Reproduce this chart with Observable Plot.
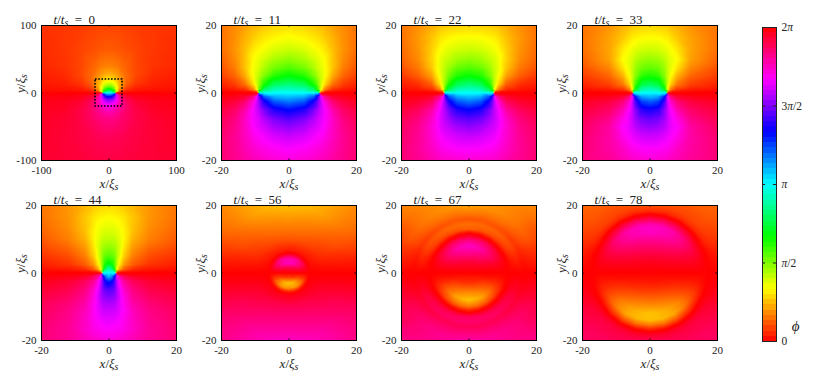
<!DOCTYPE html>
<html><head><meta charset="utf-8">
<style>
html,body{margin:0;padding:0;background:#fff}
#chart{position:relative;width:830px;height:382px;overflow:hidden}
#chart svg{position:absolute;overflow:visible;background:transparent}
</style>
<script src="https://cdn.jsdelivr.net/npm/d3@7"></script>
<script src="https://cdn.jsdelivr.net/npm/@observablehq/plot@0.6"></script>
</head><body><div id="chart"></div>
<script>
// Phase phi in degrees (0..360 = 0..2pi), upper half plane, read from hue; x>=0 side.
const rowsV = [0,1,2.5,5,7.5,10,13,16.5,20];

const xs0 = [0,5,9.7,10.3,15,25,40,65,100];
const ys0 = [0,2,5,10,17,27,40,65,100];
const phi0 = [
[180,180,180,0,0,0,0,0,0],
[157,151,93,76,18,5,3,2,2],
[127,117,79,73,35,12,6,4,3],
[90,83,65,62,43,20,10,6,5],
[62,59,52,51,40,25,14,8,6],
[42,41,38,37,33,25,17,10,7],
[30,30,29,29,27,23,17,12,9],
[21,21,20,20,20,18,16,13,10],
[16,16,16,16,16,15,14,13,12]];

const xs11 = [0,4.5,7.5,8.7,9.3,10.5,13,16,20];
const phi11 = [
[180,180,180,180,0,0,0,0,0],
[167,163,143,102,70,31,11,6,3],
[149,141,113,88,75,52,26,14,8],
[122,112,90,78,72,62,40,24,15],
[101,92,78,70,67,62,46,30,20],
[86,80,70,66,64,60,46,33,23],
[72,68,62,59,58,55,45,35,26],
[61,58,54,52,51,48,42,34,27],
[52,50,47,45,44,43,38,33,27]];

const xs22 = [0,3.5,6,7.1,7.5,8.5,11,15,20];
const phi22 = [
[180,180,180,180,0,0,0,0,0],
[167,162,140,103,65,32,10,5,3],
[148,140,115,88,74,53,22,11,7],
[120,113,93,80,74,64,38,22,13],
[100,95,83,76,73,67,47,29,19],
[86,82,74,71,70,65,50,33,23],
[72,70,66,64,63,60,49,35,25],
[61,60,58,56,56,54,46,36,27],
[50,49,48,47,47,46,41,34,27]];

const xs33 = [0,2.5,4,4.8,5.2,6,8,12,20];
const phi33 = [
[180,180,180,180,0,0,0,0,0],
[165,160,135,100,60,30,12,6,3],
[142,135,110,88,72,50,28,15,8],
[115,110,92,80,72,62,42,24,14],
[97,93,85,78,73,66,54,32,19],
[85,82,77,73,70,66,60,38,23],
[71,70,67,65,64,61,55,39,26],
[60,59,57,56,56,53,47,38,27],
[50,49,48,47,47,45,42,35,28]];

const xs44 = [0,1,1.8,2.2,3,4.5,7,12,20];
const phi44 = [
[180,180,180,0,0,0,0,0,0],
[165,150,105,70,40,20,10,5,3],
[128,118,95,80,58,36,22,12,7],
[100,97,90,82,68,48,30,18,12],
[86,85,82,78,70,54,36,24,17],
[75,75,73,71,67,58,42,30,21],
[67,67,66,65,63,57,46,33,24],
[60,59,58,58,57,54,47,35,27],
[51,51,50,50,49,47,43,35,28]];

const anglesB = [0,10,20,30,45,60,75,90];

const rs56 = [0,1.5,3,4.5,5.5,6.5,8,10,13,16,20,24,29];
const phi56 = [
[0,0,0,0,0,0,0,0,0,0,0,0,0],
[0,-3,-6,-6,-2,1,2,3,4,5,6,7,8],
[0,-5,-12,-13,-4,2,4,7,9,11,14,16,17],
[0,-7,-18,-22,-6,3,6,10,14,18,21,24,26],
[0,-10,-30,-30,-8,4,8,14,19,24,30,32,32],
[0,-13,-40,-36,-9,4,10,17,24,30,38,40,38],
[0,-16,-44,-36,-9,5,11,19,27,33,43,45,43],
[0,-18,-46,-34,-9,5,11,20,28,35,45,47,48]];

const rs67 = [0,3,6,8,10,11,12,13,14.5,16,18,20,24,29];
const phi67 = [
[0,0,0,0,0,0,0,0,0,0,0,0,0,0],
[0,-2,-3,-4,-3,-1,1,3,5,3,5,6,6,7],
[0,-4,-8,-10,-7,-2,2,7,10,7,10,12,12,15],
[0,-6,-14,-18,-11,-3,4,12,16,12,17,20,18,24],
[0,-8,-22,-28,-17,-4,6,16,21,16,23,27,28,32],
[0,-10,-28,-38,-22,-6,6,18,24,19,27,32,33,38],
[0,-11,-32,-43,-25,-8,5,20,25,20,28,35,38,41],
[0,-12,-34,-46,-27,-10,4,22,26,20,30,38,40,42]];

const rs78 = [0,3,6,9,12,14,15.5,17,18.5,20,24,29];
const phi78 = [
[0,0,0,0,0,0,0,0,0,0,0,0],
[0,-1,-2,-3,-5,-5,-3,0,2,3,5,6],
[0,-2,-5,-8,-11,-11,-7,0,4,7,10,13],
[0,-3,-7,-13,-18,-18,-10,1,8,12,16,19],
[0,-4,-11,-20,-30,-30,-17,-2,10,16,21,24],
[0,-5,-14,-26,-38,-40,-24,-4,10,16,22,25],
[0,-6,-16,-29,-43,-44,-27,-4,10,17,21,24],
[0,-6,-17,-30,-46,-45,-27,-5,11,18,22,24]];

const times = ["0","11","22","33","44","56","67","78"];
const extents = [100,20,20,20,20,20,20,20];
const frameLefts = [41,221,401,582,41,221,401,582];
const frameTops = [25,25,25,25,205,205,205,205];
const barTickValues = [0,90,180,270,360];
const barTickLabels = ["0","π/2","π","3π/2","2π"];
const barLevels = d3.range(0,360,6);

const gridTable = (xs,ys,m)=>m.flatMap((row,j)=>row.flatMap((phi,i)=>[{x:xs[i],y:ys[j],phi},{x:-xs[i],y:ys[j],phi}]));
const polarTable = (rs,as,m)=>m.flatMap((row,j)=>row.flatMap((phi,i)=>{
  const a=as[j]*Math.PI/180, x=rs[i]*Math.cos(a), y=rs[i]*Math.sin(a);
  return [{x,y,phi},{x:-x,y,phi}];
}));
const mirror = t=>t.map(d=>({x:d.x,y:-d.y,phi:360-d.phi}));

const uppers = [
  gridTable(xs0,ys0,phi0),
  gridTable(xs11,rowsV,phi11),
  gridTable(xs22,rowsV,phi22),
  gridTable(xs33,rowsV,phi33),
  gridTable(xs44,rowsV,phi44),
  polarTable(rs56,anglesB,phi56),
  polarTable(rs67,anglesB,phi67),
  polarTable(rs78,anglesB,phi78)
];

const FONT = "'Liberation Serif','DejaVu Serif',serif";
const hue = h=>`hsl(${((h%360)+360)%360},100%,50%)`;
const phaseColor = {type:"linear",domain:[-90,450],interpolate:t=>hue(-90+540*t)};

// Typeset "x/ξ_s" style strings: letters italic, _s as subscript.
function typeset(svg){
  svg.querySelectorAll("text").forEach(el=>{
    const s=el.textContent;
    if(!/[_π]/.test(s)) return;
    el.textContent="";
    const NS="http://www.w3.org/2000/svg";
    const parts=s.match(/_.|[a-zA-Zξπ]|[^a-zA-Zξπ_]+/g);
    let shifted=false;
    for(const p of parts){
      const t=document.createElementNS(NS,"tspan");
      if(p[0]==="_"){t.textContent=p[1];t.setAttribute("font-size","0.75em");t.setAttribute("dy","0.25em");t.setAttribute("font-style","italic");shifted=true;}
      else{
        t.textContent=p;
        if(shifted){t.setAttribute("dy","-0.19em");shifted=false;}
        if(/[a-zA-Zξπ]/.test(p)) t.setAttribute("font-style","italic");
      }
      el.appendChild(t);
    }
  });
}

const root=document.getElementById("chart");
const W=175,H=180,ML=41,MT=25,FR=135;

function place(svg,left,top){svg.style.left=left+"px";svg.style.top=top+"px";root.appendChild(svg);typeset(svg);}

uppers.forEach((upper,k)=>{
  const e=extents[k], tick=e*3/135;
  const ticks=[-e,0,e];
  const lab=d=>String(d);
  const marks=[
    Plot.raster(upper,{x:"x",y:"y",fill:"phi",x1:-e,x2:e,y1:0,y2:e,interpolate:"barycentric",pixelSize:1,clip:"frame"}),
    Plot.raster(mirror(upper),{x:"x",y:"y",fill:"phi",x1:-e,x2:e,y1:-e,y2:0,interpolate:"barycentric",pixelSize:1,clip:"frame"}),
    Plot.ruleX([0],{y1:-e,y2:-e+tick,stroke:"black"}),
    Plot.ruleX([0],{y1:e,y2:e-tick,stroke:"black"}),
    Plot.ruleY([0],{x1:-e,x2:-e+tick,stroke:"black"}),
    Plot.ruleY([0],{x1:e,x2:e-tick,stroke:"black"}),
    Plot.frame({stroke:"black",strokeWidth:1}),
    Plot.axisX(ticks,{tickSize:0,tickPadding:6,anchor:"bottom",label:null,tickFormat:lab,fontSize:11,fontFamily:FONT,fill:"#222"}),
    Plot.axisY(ticks,{tickSize:0,tickPadding:5,anchor:"left",label:null,tickFormat:lab,fontSize:11,fontFamily:FONT,fill:"#222"}),
    Plot.text(["x/ξ_s"],{frameAnchor:"bottom",lineAnchor:"middle",dy:23,fontSize:13,fontFamily:FONT,fill:"#222",letterSpacing:"1.6px"}),
    Plot.text(["y/ξ_s"],{frameAnchor:"left",lineAnchor:"middle",dx:-21,rotate:-90,fontSize:13,fontFamily:FONT,fill:"#222",letterSpacing:"1.6px"}),
    Plot.text([`t/t_s\u2002=\u2002${times[k]}`],{frameAnchor:"top-left",dx:12,dy:-6,textAnchor:"start",lineAnchor:"middle",fontSize:13,fontFamily:FONT,fill:"#222",letterSpacing:"1px"})
  ];
  if(k===0) marks.splice(7,0,Plot.rect([{a:-20,b:20}],{x1:"a",x2:"b",y1:"a",y2:"b",fill:"none",stroke:"black",strokeWidth:1.6,strokeDasharray:"1.6 1.6"}));
  const svg=Plot.plot({width:W,height:H,marginLeft:ML,marginTop:MT,marginRight:W-ML-FR,marginBottom:H-MT-FR,
    x:{domain:[-e,e]},y:{domain:[-e,e]},color:phaseColor,style:{background:"transparent",overflow:"visible"},marks});
  place(svg,frameLefts[k]-ML,frameTops[k]-MT);
});

// Colour bar
const barSvg=Plot.plot({width:70,height:382,marginLeft:2,marginRight:54,marginTop:27,marginBottom:41,
  x:{domain:[0,1],axis:null},y:{domain:[0,360],axis:null},color:phaseColor,style:{background:"transparent",overflow:"visible"},
  marks:[
    Plot.rect(barLevels,{x1:0,x2:1,y1:d=>d,y2:d=>d+6,fill:d=>d+3,shapeRendering:"crispEdges"}),
    Plot.ruleY(barTickValues,{x1:0,x2:0.22,stroke:"#222"}),
    Plot.ruleY(barTickValues,{x1:0.78,x2:1,stroke:"#222"}),
    Plot.frame({stroke:"#222",strokeWidth:1}),
    Plot.text(barTickValues,{x:1,y:d=>d,text:(d,i)=>barTickLabels[i],dx:5,textAnchor:"start",fontSize:11.5,fontFamily:FONT,fill:"#222",letterSpacing:"1px"}),
    Plot.text(["ϕ"],{x:1,y:[18],dx:19,textAnchor:"middle",fontSize:15,fontFamily:FONT,fontStyle:"italic",fill:"#222"})
  ]});
place(barSvg,760,0);
</script></body></html>
